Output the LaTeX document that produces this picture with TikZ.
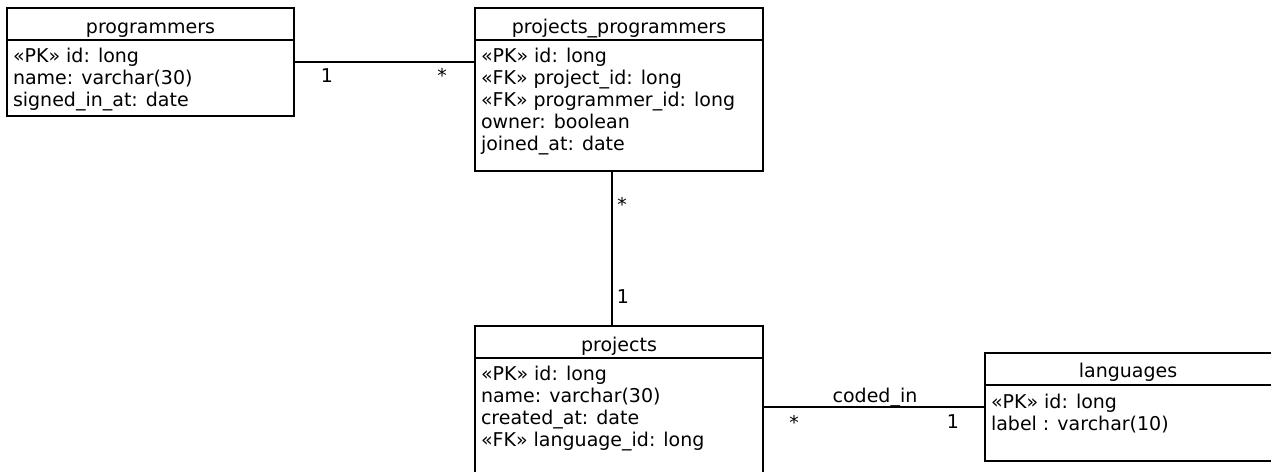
\documentclass[tikz,border=0pt]{standalone}
\usepackage{fontspec}
\setmainfont{DejaVu Sans}
\begin{document}
\begin{tikzpicture}[x=1pt,y=-1pt,
  every node/.style={inner sep=0pt, outer sep=0pt},
  classbox/.style={draw=black, line width=1.3pt, fill=white, rectangle},
  sep/.style={line width=1.3pt},
  conn/.style={line width=1.3pt},
  txt/.style={anchor=base west, font=\fontsize{19}{22}\selectfont},
  head/.style={anchor=base, font=\fontsize{19}{22}\selectfont},
  lbl/.style={anchor=base, font=\fontsize{19}{22}\selectfont}]
\useasboundingbox (0,0) rectangle (1271,471);
\clip (0,0) rectangle (1271,471);
\fill[white] (0,0) rectangle (1271,471);

% programmers
\node[classbox, minimum width=287pt, minimum height=108pt] (prog) at (150.5,62) {};
\draw[sep] (7,40) -- (294,40);
\node[head] (progh) at (150.5,33) {programmers};
\node[txt] (prog1) at (13,62) {«PK» id: long};
\node[txt] (prog2) at (13,84) {name: varchar(30)};
\node[txt] (prog3) at (13,106) {signed\_in\_at: date};

% projects_programmers
\node[classbox, minimum width=288pt, minimum height=163pt] (pp) at (619,89.5) {};
\draw[sep] (475,40) -- (763,40);
\node[head] (pph) at (619,33) {projects\_programmers};
\node[txt] (pp1) at (481,62) {«PK» id: long};
\node[txt] (pp2) at (481,84) {«FK» project\_id: long};
\node[txt] (pp3) at (481,106) {«FK» programmer\_id: long};
\node[txt] (pp4) at (481,128) {owner: boolean};
\node[txt] (pp5) at (481,150) {joined\_at: date};

% projects
\node[classbox, minimum width=288pt, minimum height=164pt] (proj) at (619,408) {};
\draw[sep] (475,358) -- (763,358);
\node[head] (projh) at (619,351) {projects};
\node[txt] (proj1) at (481,380) {«PK» id: long};
\node[txt] (proj2) at (481,402) {name: varchar(30)};
\node[txt] (proj3) at (481,424) {created\_at: date};
\node[txt] (proj4) at (481,446) {«FK» language\_id: long};

% languages
\node[classbox, minimum width=295pt, minimum height=108pt] (lang) at (1132.5,407) {};
\draw[sep] (985,385) -- (1280,385);
\node[head] (langh) at (1128,377) {languages};
\node[txt] (lang1) at (991,408) {«PK» id: long};
\node[txt] (lang2) at (991,430) {label : varchar(10)};

% connectors
\draw[conn] (prog.east) -- (prog.east -| pp.west);
\node[lbl] (c1a) at (327,82) {1};
\node[lbl] (c1b) at (442,82) {*};

\draw[conn] ([xshift=-7pt]pp.south) -- ([xshift=-7pt]pp.south |- proj.north);
\node[lbl] (c2a) at (622,211) {*};
\node[lbl] (c2b) at (623,303) {1};

\draw[conn] (lang.west) -- (lang.west -| proj.east);
\node[lbl] (c3n) at (875,402) {coded\_in};
\node[lbl] (c3a) at (794,429) {*};
\node[lbl] (c3b) at (953,428) {1};
\end{tikzpicture}
\end{document}
